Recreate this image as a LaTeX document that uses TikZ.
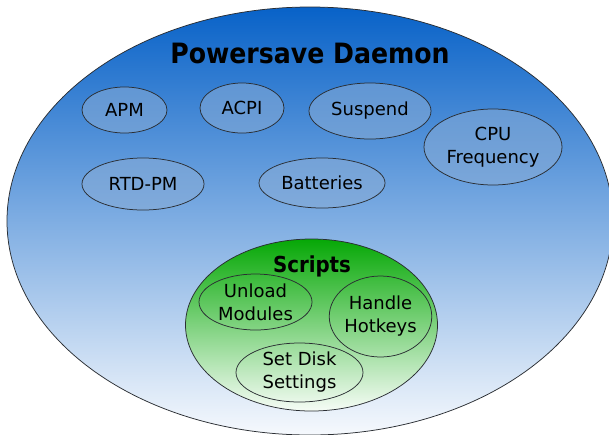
\documentclass[tikz,border=0pt]{standalone}
\usepackage{fontspec}
\setmainfont{DejaVu Sans}
\newfontfamily\condfont{DejaVu Sans Condensed}
\usetikzlibrary{shapes.geometric}
\definecolor{outertop}{HTML}{0862C8}
\definecolor{outermid}{HTML}{6AA4E2}
\definecolor{outerbot}{HTML}{F6F9FD}
\definecolor{greentop}{HTML}{06A806}
\definecolor{greenmid}{HTML}{5CC45C}
\definecolor{greenbot}{HTML}{F6FCF6}
\definecolor{bubble}{HTML}{88ACD6}
\definecolor{edge}{HTML}{2A2E33}
\tikzset{
  oval/.style={ellipse, draw=edge, line width=0.75pt, inner sep=0pt},
  bluebubble/.style={oval, fill=bubble, fill opacity=0.55, text opacity=1,
    font=\fontsize{18}{23}\selectfont, align=center, text=black},
  greenbubble/.style={oval, font=\fontsize{18}{23}\selectfont, align=center, text=black},
  label/.style={inner sep=0pt, text=black}
}
\begin{document}
\begin{tikzpicture}[x=1pt,y=-1pt]
\useasboundingbox (0,0) rectangle (609,434);
\clip (0,0) rectangle (609,434);
\fill[white] (0,0) rectangle (609,434);
% outer ellipse
\node[oval, top color=outertop, middle color=outermid, bottom color=outerbot,
  minimum width=606pt, minimum height=428pt] (daemon) at (310,221) {};
\node[label, anchor=base, font=\condfont\bfseries\fontsize{28}{30}\selectfont] (title) at (310,63) {Powersave Daemon};
% blue bubbles
\node[bluebubble, minimum width=85pt, minimum height=46pt] (apm) at (124.5,110) {APM};
\node[bluebubble, minimum width=84pt, minimum height=50pt] (acpi) at (242,108) {ACPI};
\node[bluebubble, minimum width=122pt, minimum height=56pt] (suspend) at (370,111) {Suspend};
\node[bluebubble, minimum width=138pt, minimum height=76pt] (cpu) at (493,147) {CPU\\Frequency};
\node[bluebubble, minimum width=122pt, minimum height=52pt] (rtd) at (143,184) {RTD-PM};
\node[bluebubble, minimum width=126pt, minimum height=50pt] (batt) at (322,183) {Batteries};
% scripts
\node[oval, top color=greentop, middle color=greenmid, bottom color=greenbot,
  minimum width=252pt, minimum height=172pt] (scripts) at (311.5,325) {};
\node[label, anchor=base, font=\condfont\bfseries\fontsize{22}{24}\selectfont] (stitle) at (312,272) {Scripts};
\node[greenbubble, minimum width=113pt, minimum height=56pt] (unload) at (255.5,302) {Unload\\Modules};
\node[greenbubble, minimum width=93pt, minimum height=81pt] (hotkeys) at (380.5,316.5) {Handle\\Hotkeys};
\node[greenbubble, minimum width=127pt, minimum height=59pt] (disk) at (299.5,372.5) {Set Disk\\Settings};
\end{tikzpicture}
\end{document}
